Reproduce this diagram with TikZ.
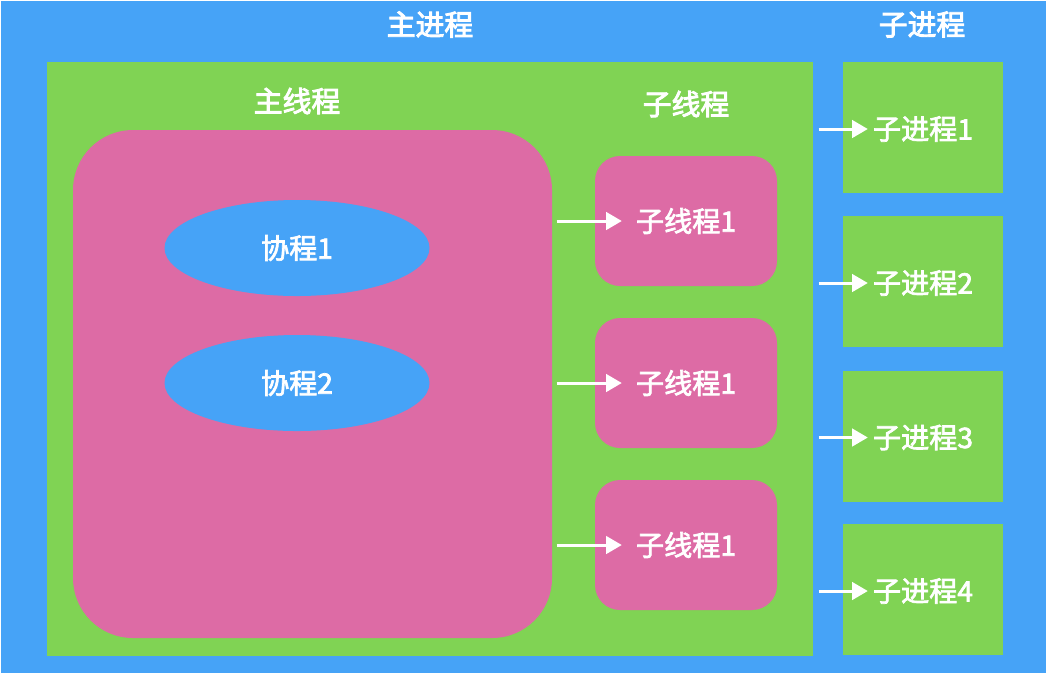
\documentclass[tikz,border=0pt]{standalone}
\usepackage{fontspec}
\setmainfont{Noto Sans CJK SC}
\newfontfamily\medfont{Noto Sans CJK SC}[FakeBold=2.5]
\newfontfamily\titlefont{Noto Sans CJK SC}[FakeBold=3.2]
\usepackage{xcolor}
\usepackage{tikz}
\usetikzlibrary{shapes.geometric, arrows.meta, positioning}
\definecolor{procblue}{RGB}{70,163,247}
\definecolor{procgreen}{RGB}{128,211,84}
\definecolor{threadpink}{RGB}{221,107,165}
\tikzset{
  title/.style={text=white, font=\fontsize{8.2}{10}\selectfont\titlefont, inner sep=1pt},
  label/.style={text=white, font=\fontsize{8}{10}\selectfont\medfont, inner sep=1pt},
  procbox/.style={rectangle, fill=procgreen, minimum width=1.60cm,
                  minimum height=1.31cm, inner sep=0pt},
  threadbox/.style={rectangle, fill=threadpink, rounded corners=0.25cm,
                    minimum width=1.82cm, minimum height=1.30cm, inner sep=0pt},
  coroutine/.style={ellipse, fill=procblue, minimum width=2.65cm,
                    minimum height=0.96cm, inner sep=0pt, text=white,
                    font=\fontsize{8}{10}\selectfont\medfont},
  arrow/.style={-{Triangle[length=4.5pt, width=5pt]}, draw=white, line width=0.85pt},
}

\begin{document}
\begin{tikzpicture}
  \useasboundingbox (0,0) rectangle (10.46,-6.72);
  % Background
  \node[rectangle, fill=procblue, minimum width=10.46cm, minimum height=6.72cm,
        inner sep=0pt, anchor=north west] (bg) at (0,0) {};

  % Main process
  \node[title] (maintitle) at (4.30,-0.245) {主进程};
  \node[rectangle, fill=procgreen, minimum width=7.66cm, minimum height=5.94cm,
        inner sep=0pt] (mainproc) at (4.30,-3.59) {};

  % Main thread with coroutines
  \node[title] (threadtitle) at (2.97,-1.01) {主线程};
  \node[rectangle, fill=threadpink, rounded corners=0.6cm, minimum width=4.79cm,
        minimum height=5.08cm, inner sep=0pt] (mainthread) at (3.125,-3.84) {};
  \node[coroutine] (co1) at (2.97,-2.48) {协程1};
  \node[coroutine] (co2) at (2.97,-3.83) {协程2};

  % Sub threads
  \node[title] (subthreadtitle) at (6.86,-1.04) {子线程};
  \node[threadbox] (t1) at (6.86,-2.21) {};
  \node[threadbox] (t2) at (6.86,-3.83) {};
  \node[threadbox] (t3) at (6.86,-5.45) {};
  \node[label] (t1lbl) at (t1) {子线程1};
  \node[label] (t2lbl) at (t2) {子线程1};
  \node[label] (t3lbl) at (t3) {子线程1};

  % Sub processes
  \node[title] (subproctitle) at (9.22,-0.245) {子进程};
  \node[procbox] (p1) at (9.23,-1.275) {};
  \node[procbox] (p2) at (9.23,-2.815) {};
  \node[procbox] (p3) at (9.23,-4.36) {};
  \node[procbox] (p4) at (9.23,-5.895) {};
  \node[label] (p1lbl) at ([yshift=-0.015cm]p1) {子进程1};
  \node[label] (p2lbl) at ([yshift=-0.015cm]p2) {子进程2};
  \node[label] (p3lbl) at ([yshift=-0.015cm]p3) {子进程3};
  \node[label] (p4lbl) at ([yshift=-0.015cm]p4) {子进程4};

  % Edges
  \draw[arrow, shorten <=0.04cm, shorten >=0.1cm] (mainthread.east |- t1lbl) -- (t1lbl.west);
  \draw[arrow, shorten <=0.04cm, shorten >=0.1cm] (mainthread.east |- t2lbl) -- (t2lbl.west);
  \draw[arrow, shorten <=0.04cm, shorten >=0.1cm] (mainthread.east |- t3lbl) -- (t3lbl.west);

  \draw[arrow, shorten <=0.05cm, shorten >=0.01cm] (mainproc.east |- p1lbl) -- (p1lbl.west);
  \draw[arrow, shorten <=0.05cm, shorten >=0.01cm] (mainproc.east |- p2lbl) -- (p2lbl.west);
  \draw[arrow, shorten <=0.05cm, shorten >=0.01cm] (mainproc.east |- p3lbl) -- (p3lbl.west);
  \draw[arrow, shorten <=0.05cm, shorten >=0.01cm] (mainproc.east |- p4lbl) -- (p4lbl.west);

\end{tikzpicture}
\end{document}
